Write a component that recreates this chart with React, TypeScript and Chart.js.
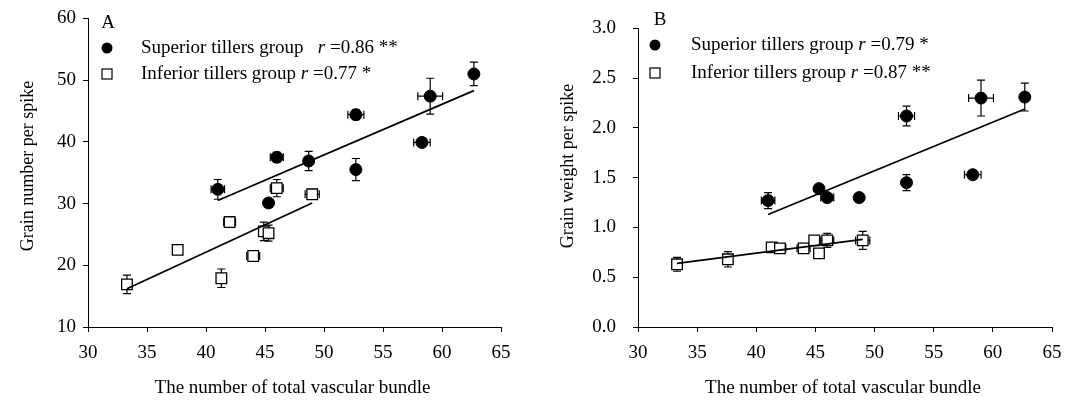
import React, { useEffect, useRef } from 'react';
import { Chart, registerables } from 'chart.js';
Chart.register(...registerables);

const FONT = "'Liberation Serif', 'Times New Roman', serif";

// Shared x values (number of total vascular bundle)
const supX = [41.0, 45.3, 46.0, 48.7, 52.7, 52.7, 58.3, 59.0, 62.7];
const supXErr = [0.57, 0, 0.55, 0, 0.68, 0, 0.7, 1.05, 0];
const infX = [33.3, 37.6, 41.3, 42.0, 44.0, 44.9, 45.3, 46.0, 49.0];
const infXErr = [0, 0, 0.3, 0.5, 0.55, 0.25, 0.25, 0.55, 0.6];

// Panel A: grain number per spike
const supYA = [32.3, 30.1, 37.5, 36.9, 44.4, 35.5, 39.9, 47.4, 51.0];
const supYErrA = [1.6, 0.6, 0.8, 1.55, 0.8, 1.8, 0.6, 2.9, 1.9];
const infYA = [16.9, 22.5, 17.9, 27.0, 21.5, 25.5, 25.2, 32.5, 31.5];
const infYErrA = [1.5, 0, 1.5, 0.5, 0.3, 1.5, 1.3, 1.4, 0.4];
const fitXSupA = [41.0, 62.7];
const fitYSupA = [30.5, 48.3];
const fitXInfA = [33.3, 49.0];
const fitYInfA = [16.2, 30.1];

// Panel B: grain weight per spike
const supYB = [1.27, 1.39, 1.30, 1.30, 2.12, 1.45, 1.53, 2.30, 2.31];
const supYErrB = [0.08, 0.03, 0.04, 0.04, 0.1, 0.08, 0.03, 0.18, 0.14];
const infYB = [0.63, 0.68, 0.80, 0.79, 0.79, 0.87, 0.74, 0.87, 0.87];
const infYErrB = [0.07, 0.077, 0.03, 0.03, 0.03, 0.03, 0, 0.07, 0.09];
const fitXSupB = [41.0, 62.7];
const fitYSupB = [1.13, 2.19];
const fitXInfB = [33.3, 49.0];
const fitYInfB = [0.64, 0.88];

const xTicks = [30, 35, 40, 45, 50, 55, 60, 65];
const yTicksA = [10, 20, 30, 40, 50, 60];
const yTicksB = [0, 0.5, 1.0, 1.5, 2.0, 2.5, 3.0];

type Panel = {
  letter: string;
  yTitle: string;
  supY: number[];
  supYErr: number[];
  infY: number[];
  infYErr: number[];
  fitSup: [number[], number[]];
  fitInf: [number[], number[]];
  yTicks: number[];
  decimals: number;
  supR: string;
  infR: string;
  supGap: string;
  width: number;
  axisLeft: number;
  right: number;
  yPad: number;
  letterPos: [number, number];
  legendMarkX: number;
  legendTextX: number;
  legendY: [number, number];
  yTitleX: number;
};

const pts = (xs: number[], ys: number[]) => xs.map((x, i) => ({ x, y: ys[i] }));

function makeChart(canvas: HTMLCanvasElement, p: Panel) {
  const font = { family: FONT, size: 19 };
  const errPlugin = {
    id: 'errbars',
    beforeDatasetsDraw(chart: any) {
      const ctx = chart.ctx;
      const xs = chart.scales.x;
      const ys = chart.scales.y;
      ctx.save();
      ctx.strokeStyle = '#000';
      ctx.lineWidth = 1.2;
      const cap = 4;
      const groups = [
        [supX, supXErr, p.supY, p.supYErr],
        [infX, infXErr, p.infY, p.infYErr],
      ];
      for (const [gx, gxe, gy, gye] of groups) {
        for (let i = 0; i < gx.length; i++) {
          const cx = xs.getPixelForValue(gx[i]);
          const cy = ys.getPixelForValue(gy[i]);
          if (gye[i] > 0) {
            const t = ys.getPixelForValue(gy[i] + gye[i]);
            const b = ys.getPixelForValue(gy[i] - gye[i]);
            ctx.beginPath();
            ctx.moveTo(cx, t); ctx.lineTo(cx, b);
            ctx.moveTo(cx - cap, t); ctx.lineTo(cx + cap, t);
            ctx.moveTo(cx - cap, b); ctx.lineTo(cx + cap, b);
            ctx.stroke();
          }
          if (gxe[i] > 0) {
            const l = xs.getPixelForValue(gx[i] - gxe[i]);
            const r = xs.getPixelForValue(gx[i] + gxe[i]);
            ctx.beginPath();
            ctx.moveTo(l, cy); ctx.lineTo(r, cy);
            ctx.moveTo(l, cy - cap); ctx.lineTo(l, cy + cap);
            ctx.moveTo(r, cy - cap); ctx.lineTo(r, cy + cap);
            ctx.stroke();
          }
        }
      }
      ctx.restore();
    },
  };

  const textPlugin = {
    id: 'texts',
    afterDraw(chart: any) {
      const ctx = chart.ctx;
      const area = chart.chartArea;
      ctx.save();
      ctx.fillStyle = '#000';
      ctx.textBaseline = 'middle';
      const normal = `19px ${FONT}`;
      const italic = `italic 19px ${FONT}`;
      // panel letter
      ctx.font = normal;
      ctx.textAlign = 'center';
      ctx.fillText(p.letter, p.letterPos[0], p.letterPos[1]);
      // x title
      ctx.fillText('The number of total vascular bundle', (area.left + area.right) / 2 - 2, 388);
      // y title
      ctx.save();
      ctx.font = `18px ${FONT}`;
      ctx.translate(p.yTitleX, 166);
      ctx.rotate(-Math.PI / 2);
      ctx.fillText(p.yTitle, 0, 0);
      ctx.restore();
      // legend markers
      ctx.beginPath();
      ctx.arc(p.legendMarkX, p.legendY[0], 5.5, 0, Math.PI * 2);
      ctx.fill();
      ctx.strokeStyle = '#000';
      ctx.lineWidth = 1.2;
      ctx.fillStyle = '#fff';
      ctx.fillRect(p.legendMarkX - 5, p.legendY[1] - 5, 10, 10);
      ctx.strokeRect(p.legendMarkX - 5, p.legendY[1] - 5, 10, 10);
      ctx.fillStyle = '#000';
      ctx.textAlign = 'left';
      const line = (y: number, parts: [string, boolean][]) => {
        let x = p.legendTextX;
        for (const [t, it] of parts) {
          ctx.font = it ? italic : normal;
          ctx.fillText(t, x, y);
          x += ctx.measureText(t).width;
        }
      };
      line(p.legendY[0], [['Superior tillers group' + p.supGap, false], ['r', true], [' =' + p.supR, false]]);
      line(p.legendY[1], [['Inferior tillers group ', false], ['r', true], [' =' + p.infR, false]]);
      ctx.restore();
    },
  };

  return new Chart(canvas, {
    type: 'scatter',
    data: {
      datasets: [
        {
          type: 'line',
          data: pts(p.fitSup[0], p.fitSup[1]),
          borderColor: '#000',
          borderWidth: 1.8,
          pointRadius: 0,
          showLine: true,
          fill: false,
        } as any,
        {
          type: 'line',
          data: pts(p.fitInf[0], p.fitInf[1]),
          borderColor: '#000',
          borderWidth: 1.8,
          pointRadius: 0,
          showLine: true,
          fill: false,
        } as any,
        {
          data: pts(supX, p.supY),
          pointStyle: 'circle',
          pointRadius: 6,
          backgroundColor: '#000',
          borderColor: '#000',
          borderWidth: 1,
        },
        {
          data: pts(infX, p.infY),
          pointStyle: 'rect',
          pointRadius: 7.5,
          backgroundColor: '#fff',
          borderColor: '#000',
          borderWidth: 1.3,
        },
      ],
    },
    options: {
      animation: false,
      responsive: false,
      maintainAspectRatio: false,
      events: [],
      layout: { padding: { top: 17, right: p.right, left: 0, bottom: 0 } },
      plugins: { legend: { display: false }, tooltip: { enabled: false } },
      scales: {
        x: {
          type: 'linear',
          min: 30,
          max: 65,
          afterBuildTicks: (s: any) => { s.ticks = xTicks.map((v) => ({ value: v })); },
          ticks: { font, color: '#000', padding: 10, maxRotation: 0, autoSkip: false },
          grid: { drawOnChartArea: false, drawTicks: true, tickLength: 5, color: '#000', lineWidth: 1 },
          border: { display: true, color: '#000', width: 1 },
          afterFit: (s: any) => { s.height = 81; },
        },
        y: {
          type: 'linear',
          min: p.yTicks[0],
          max: p.yTicks[p.yTicks.length - 1],
          afterBuildTicks: (s: any) => { s.ticks = p.yTicks.map((v) => ({ value: v })); },
          ticks: {
            font,
            color: '#000',
            padding: p.yPad,
            autoSkip: false,
            callback: (v: any) => Number(v).toFixed(p.decimals),
          },
          grid: { drawOnChartArea: false, drawTicks: true, tickLength: 5, color: '#000', lineWidth: 1 },
          border: { display: true, color: '#000', width: 1 },
          afterFit: (s: any) => { s.width = p.axisLeft; },
        },
      },
    },
    plugins: [errPlugin, textPlugin],
  } as any);
}

const panelA: Panel = {
  letter: 'A',
  yTitle: 'Grain number per spike',
  supY: supYA,
  supYErr: supYErrA,
  infY: infYA,
  infYErr: infYErrA,
  fitSup: [fitXSupA, fitYSupA],
  fitInf: [fitXInfA, fitYInfA],
  yTicks: yTicksA,
  decimals: 0,
  supR: '0.86 **',
  infR: '0.77 *',
  supGap: '   ',
  width: 537,
  axisLeft: 88,
  right: 36,
  yPad: 7,
  letterPos: [108, 23],
  legendMarkX: 107,
  legendTextX: 141,
  legendY: [48, 74],
  yTitleX: 28,
};

const panelB: Panel = {
  letter: 'B',
  yTitle: 'Grain weight per spike',
  supY: supYB,
  supYErr: supYErrB,
  infY: infYB,
  infYErr: infYErrB,
  fitSup: [fitXSupB, fitYSupB],
  fitInf: [fitXInfB, fitYInfB],
  yTicks: yTicksB,
  decimals: 1,
  supR: '0.79 *',
  infR: '0.87 **',
  supGap: ' ',
  width: 538,
  axisLeft: 101,
  right: 23,
  yPad: 17,
  letterPos: [123, 20],
  legendMarkX: 118,
  legendTextX: 154,
  legendY: [45, 73],
  yTitleX: 31,
};

function ChartPanel({ panel, left }: { panel: Panel; left: number }) {
  const ref = useRef<HTMLCanvasElement>(null);
  useEffect(() => {
    if (!ref.current) return;
    const c = makeChart(ref.current, panel);
    return () => c.destroy();
  }, [panel]);
  return (
    <canvas
      ref={ref}
      width={panel.width}
      height={408}
      style={{ position: 'absolute', left, top: 0, width: panel.width, height: 408, display: 'block' }}
    />
  );
}

export default function App() {
  return (
    <div style={{ position: 'absolute', left: 0, top: 0, width: 1075, height: 408, background: '#fff' }}>
      <ChartPanel panel={panelA} left={0} />
      <ChartPanel panel={panelB} left={537} />
    </div>
  );
}
